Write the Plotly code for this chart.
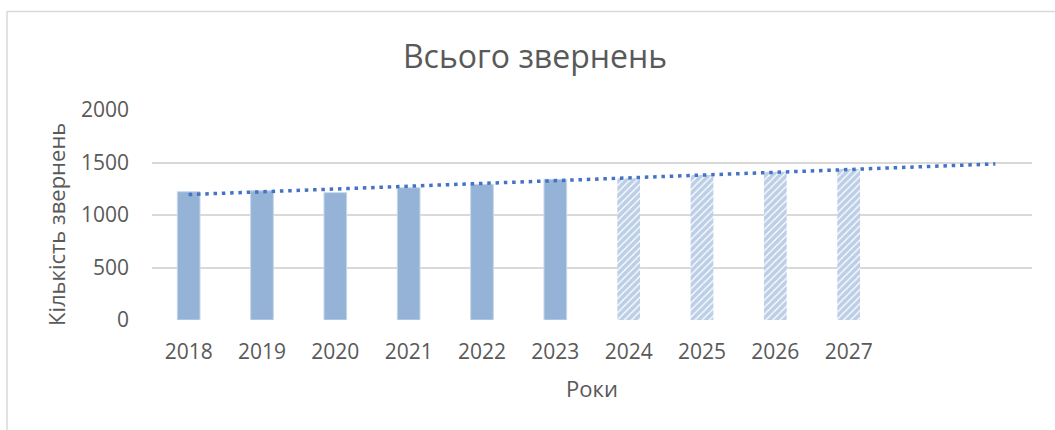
import numpy as np
import plotly.graph_objects as go

years = ["2018", "2019", "2020", "2021", "2022", "2023", "2024", "2025", "2026", "2027"]
actual_values = [1222, 1231, 1213, 1260, 1292, 1340]
forecast_values = [1349, 1381, 1413, 1438]
trend_forward_periods = 2  # trendline extended past the last bar

W, H = 1055, 430
L, R, T, B = 152, 23, 110, 110
PW, PH = W - L - R, H - T - B

all_values = actual_values + forecast_values
n_all = len(all_values)
x_actual = list(range(len(actual_values)))
x_forecast = list(range(len(actual_values), n_all))
slope, intercept = np.polyfit(np.arange(n_all), all_values, 1)
x_trend = [0, n_all - 1 + trend_forward_periods]
y_trend = [intercept + slope * x for x in x_trend]

FONT = "Open Sans"
TXT = "#595959"
BAR = "#95B3D7"

fig = go.Figure()
fig.add_trace(go.Bar(
    x=x_actual, y=actual_values,
    marker=dict(color=BAR, line=dict(color="#C9D8EC", width=1)),
    showlegend=False,
))
fig.add_trace(go.Bar(
    x=x_forecast, y=forecast_values,
    marker=dict(color="white", line=dict(color="white", width=0),
                pattern=dict(shape="/", fgcolor="#7C9FCF", bgcolor="white", size=5, solidity=0.75)),
    showlegend=False,
))
fig.add_trace(go.Scatter(
    x=x_trend, y=y_trend, mode="lines",
    line=dict(color="#4472C4", width=3.5, dash="3.5px,4.8px"),
    showlegend=False,
))

def px2paper_x(px):
    return (px - L) / PW

def px2paper_y(py):
    return (H - B - py) / PH

fig.add_shape(type="line", xref="paper", yref="paper",
              x0=px2paper_x(7), x1=px2paper_x(1062), y0=px2paper_y(11.5), y1=px2paper_y(11.5),
              line=dict(color="#D9D9D9", width=1.5))
fig.add_shape(type="line", xref="paper", yref="paper",
              x0=px2paper_x(7), x1=px2paper_x(7), y0=px2paper_y(11.5), y1=px2paper_y(440),
              line=dict(color="#D9D9D9", width=1.5))

fig.add_annotation(text="Кількість звернень", xref="paper", yref="paper",
                   x=px2paper_x(56), y=px2paper_y(225), textangle=-90,
                   showarrow=False, font=dict(family=FONT, size=22, color=TXT),
                   xanchor="center", yanchor="middle")

fig.update_layout(
    width=W, height=H,
    margin=dict(l=L, r=R, t=T, b=B),
    paper_bgcolor="white", plot_bgcolor="white",
    barmode="overlay", bargap=0.69,
    title=dict(text="Всього звернень", x=535 / W, xanchor="center",
               y=1 - 57 / H, yanchor="middle", yref="container",
               font=dict(family=FONT, size=32, color=TXT)),
    xaxis=dict(range=[-0.5, 11.5], tickmode="array", tickvals=list(range(len(years))),
               ticktext=years, showgrid=False, zeroline=False, showline=False,
               tickfont=dict(family=FONT, size=21, color=TXT), ticklabelstandoff=17,
               title=dict(text="Роки", font=dict(family=FONT, size=22, color=TXT), standoff=17)),
    yaxis=dict(range=[0, 2000], tickvals=[0, 500, 1000, 1500, 2000],
               showgrid=True, gridcolor="#D9D9D9", gridwidth=1.8, zeroline=False, showline=False,
               tickfont=dict(family=FONT, size=21, color=TXT), ticklabelstandoff=22),
)

fig.write_html("out.html", config={"displayModeBar": False},
               post_script="document.body.style.margin='0';")
